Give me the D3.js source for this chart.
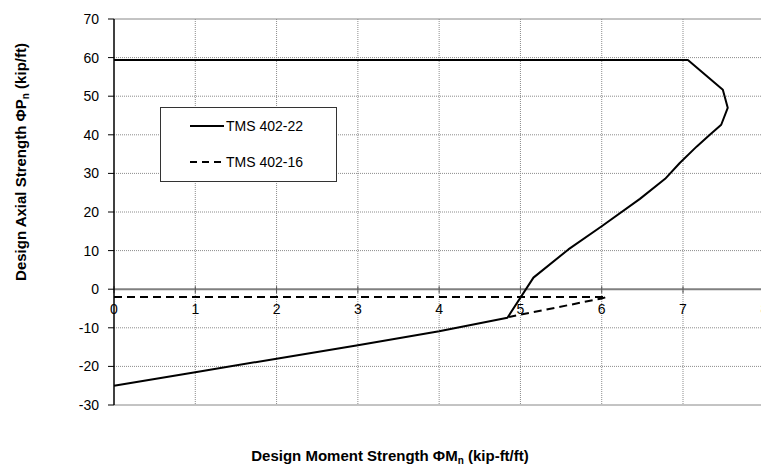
<!DOCTYPE html>
<html><head><meta charset="utf-8">
<script src="https://cdn.jsdelivr.net/npm/d3@7"></script>
<style>body{margin:0;background:#fff}svg{display:block}text{font-family:"Liberation Sans",Arial,sans-serif}</style>
</head><body>
<script>
const xTicks = [0,1,2,3,4,5,6,7,8];
const yTicks = [-30,-20,-10,0,10,20,30,40,50,60,70];
const seriesNames = ["TMS 402-22","TMS 402-16"];
const tms22X = [0,7.06,7.49,7.55,7.47,7.33,7.17,6.96,6.78,6.47,6.0,5.59,5.16,4.84,4,3,2,1,0];
const tms22Y = [59.4,59.4,51.7,47.0,42.6,40.0,37.0,32.7,28.6,23.4,16.3,10.3,3.0,-7.4,-10.9,-14.5,-18.0,-21.5,-25.0];
const tms16X = [0,6.06,6.0,4.86];
const tms16Y = [-2.0,-2.0,-2.4,-7.2];

const W=761,H=470;
const svg=d3.select("body").append("svg").attr("width",W).attr("height",H);
const x=d3.scaleLinear().domain([0,8]).range([114,764.3]);
const y=d3.scaleLinear().domain([-30,70]).range([405,19]);

// gridlines
svg.append("g").selectAll("line").data(xTicks.slice(1)).join("line")
  .attr("x1",d=>x(d)).attr("x2",d=>x(d)).attr("y1",y(70)).attr("y2",y(-30))
  .attr("stroke","#8c8c8c").attr("stroke-width",1).attr("stroke-dasharray","1,1");
svg.append("g").selectAll("line").data(yTicks.filter(d=>d!==0&&d!==-30&&d!==70)).join("line")
  .attr("x1",x(0)).attr("x2",x(8)).attr("y1",d=>y(d)).attr("y2",d=>y(d))
  .attr("stroke","#8c8c8c").attr("stroke-width",1).attr("stroke-dasharray","1,1");
// plot borders
svg.append("line").attr("x1",x(0)).attr("x2",x(8)).attr("y1",y(70)).attr("y2",y(70)).attr("stroke","#888").attr("stroke-width",1);
svg.append("line").attr("x1",x(0)).attr("x2",x(8)).attr("y1",y(-30)).attr("y2",y(-30)).attr("stroke","#888").attr("stroke-width",1);
// x axis at y=0
svg.append("line").attr("x1",x(0)).attr("x2",x(8)).attr("y1",y(0)).attr("y2",y(0)).attr("stroke","#808080").attr("stroke-width",2);
svg.append("g").selectAll("line").data(xTicks).join("line")
  .attr("x1",d=>x(d)).attr("x2",d=>x(d)).attr("y1",y(0)-3).attr("y2",y(0)+4)
  .attr("stroke","#555").attr("stroke-width",1);
svg.append("g").selectAll("text").data(xTicks).join("text")
  .attr("x",d=>x(d)).attr("y",314).attr("text-anchor","middle")
  .attr("font-size",14).attr("fill","#000").text(d=>d);
// y axis
svg.append("line").attr("x1",x(0)).attr("x2",x(0)).attr("y1",y(70)).attr("y2",y(-30)).attr("stroke","#000").attr("stroke-width",1.5);
svg.append("g").selectAll("line").data(yTicks).join("line")
  .attr("x1",x(0)-6).attr("x2",x(0)).attr("y1",d=>y(d)).attr("y2",d=>y(d))
  .attr("stroke","#000").attr("stroke-width",1);
svg.append("g").selectAll("text").data(yTicks).join("text")
  .attr("x",99).attr("y",d=>y(d)+5).attr("text-anchor","end")
  .attr("font-size",14).attr("fill","#000").text(d=>d);

// series
const line=d3.line().x(d=>x(d[0])).y(d=>y(d[1]));
svg.append("path").datum(tms16X.map((v,i)=>[v,tms16Y[i]])).attr("d",line)
  .attr("fill","none").attr("stroke","#000").attr("stroke-width",2).attr("stroke-dasharray","8,5");
svg.append("path").datum(tms22X.map((v,i)=>[v,tms22Y[i]])).attr("d",line)
  .attr("fill","none").attr("stroke","#000").attr("stroke-width",2).attr("stroke-linejoin","round");

// legend
const lg=svg.append("g");
lg.append("rect").attr("x",160.5).attr("y",107.5).attr("width",176).attr("height",74)
  .attr("fill","#fff").attr("stroke","#333").attr("stroke-width",1);
const ly=[126,162];
lg.selectAll("line.l").data(seriesNames).join("line").attr("class","l")
  .attr("x1",190).attr("x2",224).attr("y1",(d,i)=>ly[i]).attr("y2",(d,i)=>ly[i])
  .attr("stroke","#000").attr("stroke-width",2).attr("stroke-dasharray",(d,i)=>i?"7,5":null);
lg.selectAll("text").data(seriesNames).join("text")
  .attr("x",226).attr("y",(d,i)=>ly[i]+5).attr("font-size",14).attr("fill","#000").text(d=>d);

// axis titles
const xt=svg.append("text").attr("x",390).attr("y",461).attr("text-anchor","middle")
  .attr("font-size",15).attr("font-weight","bold").attr("fill","#000");
xt.append("tspan").text("Design Moment Strength ΦM");
xt.append("tspan").attr("font-size",10).attr("dy",3).text("n");
xt.append("tspan").attr("dy",-3).text(" (kip-ft/ft)");
const yt=svg.append("text").attr("transform","translate(26,162) rotate(-90)").attr("text-anchor","middle")
  .attr("font-size",15).attr("font-weight","bold").attr("fill","#000");
yt.append("tspan").text("Design Axial Strength ΦP");
yt.append("tspan").attr("font-size",10).attr("dy",3).text("n");
yt.append("tspan").attr("dy",-3).text(" (kip/ft)");
</script>
</body></html>
